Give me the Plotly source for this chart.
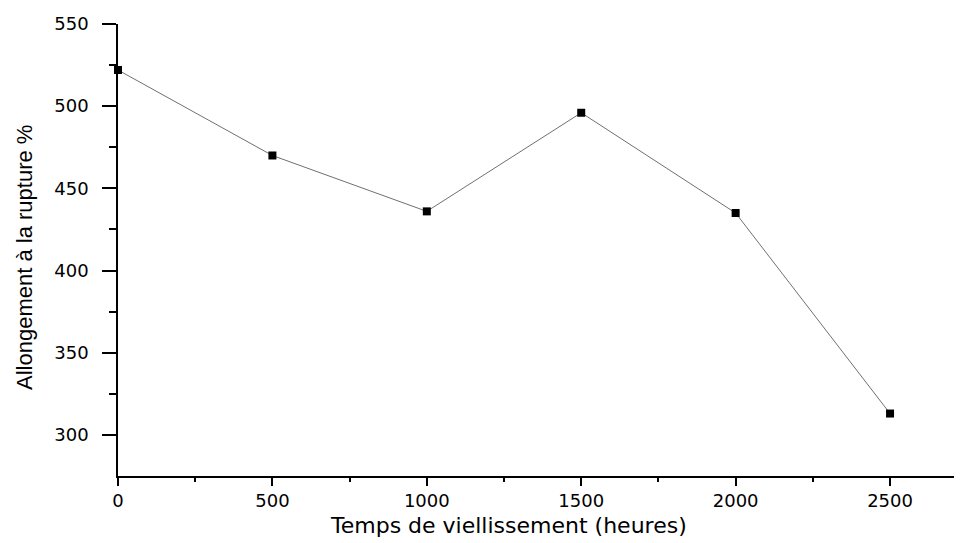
import plotly.graph_objects as go

hours = [0, 500, 1000, 1500, 2000, 2500]
elongation = [522, 470, 436, 496, 435, 313]
x_ticks = [0, 500, 1000, 1500, 2000, 2500]
y_ticks = [300, 350, 400, 450, 500, 550]

# page has 8px body margin, so the figure is offset by 8px in both directions
W, H = 954, 535
ML, MT, MB, MR = 110, 16, 67, 0
PW, PH = W - ML - MR, H - MT - MB

fig = go.Figure()
fig.add_trace(go.Scatter(
    x=hours, y=elongation, mode="lines+markers",
    line=dict(color="#707070", width=1),
    marker=dict(symbol="square", size=8, color="black"),
    cliponaxis=False, showlegend=False,
))

tick_font = dict(family="DejaVu Sans, sans-serif", size=18, color="black")
fig.update_layout(
    width=W, height=H,
    margin=dict(l=ML, r=MR, t=MT, b=MB, autoexpand=False),
    paper_bgcolor="white", plot_bgcolor="white",
    xaxis=dict(
        range=[0, 2733], tickvals=x_ticks, ticktext=[str(v) for v in x_ticks],
        showgrid=False, zeroline=False, showline=True, linecolor="black", linewidth=1.5,
        ticks="outside", ticklen=8, tickwidth=1.5, tickcolor="black", tickfont=tick_font,
        minor=dict(tickvals=[250, 750, 1250, 1750, 2250], ticks="outside", ticklen=4,
                   tickwidth=1.5, tickcolor="black", showgrid=False),
    ),
    yaxis=dict(
        range=[275, 550], tickvals=y_ticks, ticktext=[str(v) for v in y_ticks],
        showgrid=False, zeroline=False, showline=True, linecolor="black", linewidth=1.5,
        ticks="outside", ticklen=14, tickwidth=1.5, tickcolor="black", tickfont=tick_font,
        ticklabelstandoff=10,
        minor=dict(tickvals=[325, 375, 425, 475, 525], ticks="outside", ticklen=7,
                   tickwidth=1.5, tickcolor="black", showgrid=False),
    ),
    annotations=[
        dict(text="Temps de viellissement (heures)", xref="paper", yref="paper",
             x=(508 - 8 - ML) / PW, y=-(525 - 8 - (MT + PH)) / PH,
             xanchor="center", yanchor="middle", showarrow=False,
             font=dict(family="DejaVu Sans, sans-serif", size=22, color="black")),
        dict(text="Allongement à la rupture %", xref="paper", yref="paper",
             x=(24 - 8 - ML) / PW, y=1 - (258 - 8 - MT) / PH,
             xanchor="center", yanchor="middle", textangle=-90, showarrow=False,
             font=dict(family="Liberation Sans, Arial, sans-serif", size=22, color="black")),
    ],
)

fig.write_html("out.html")
